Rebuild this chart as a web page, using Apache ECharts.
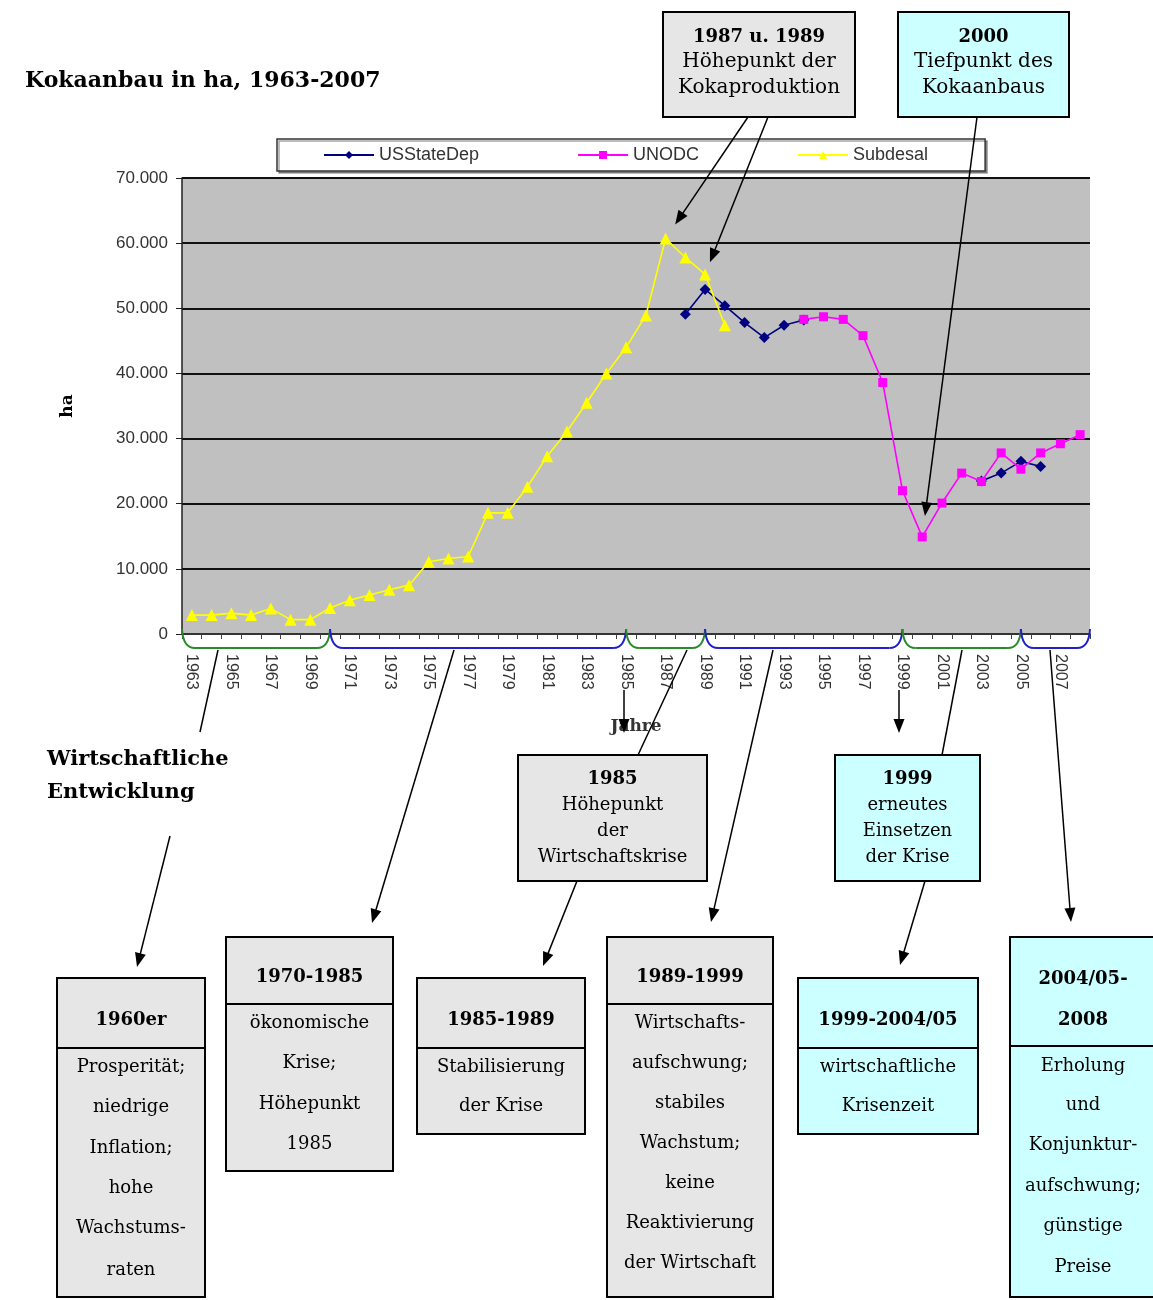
<!DOCTYPE html>
<html>
<head>
<meta charset="utf-8">
<title>Kokaanbau in ha, 1963-2007</title>
<script src="https://cdn.jsdelivr.net/npm/echarts@6/dist/echarts.min.js"></script>
<style>
  html, body { margin: 0; padding: 0; background: #ffffff; }
  #chart { width: 1153px; height: 1300px; }
</style>
</head>
<body>
<div id="chart"></div>
<script>
// Jahre 1963-2008
const years = ['1963','1964','1965','1966','1967','1968','1969','1970','1971','1972',
  '1973','1974','1975','1976','1977','1978','1979','1980','1981','1982',
  '1983','1984','1985','1986','1987','1988','1989','1990','1991','1992',
  '1993','1994','1995','1996','1997','1998','1999','2000','2001','2002',
  '2003','2004','2005','2006','2007','2008'];

// Kokaanbau in ha je Quelle
const usStateDep = [null,null,null,null,null,null,null,null,null,null,
  null,null,null,null,null,null,null,null,null,null,
  null,null,null,null,null,49100,52900,50400,47800,45500,
  47400,48200,null,null,null,null,null,null,null,null,
  23500,24700,26500,25700,null,null];

const unodc = [null,null,null,null,null,null,null,null,null,null,
  null,null,null,null,null,null,null,null,null,null,
  null,null,null,null,null,null,null,null,null,null,
  null,48300,48700,48300,45800,38600,22000,14900,20100,24700,
  23400,27800,25300,27800,29200,30600];

const subdesal = [2900,2900,3200,2900,3900,2200,2200,4000,5200,6000,
  6800,7500,11100,11600,11900,18600,18600,22600,27300,31100,
  35500,40000,44000,48900,60700,57800,55200,47400,null,null,
  null,null,null,null,null,null,null,null,null,null,
  null,null,null,null,null,null];

// Phasen der wirtschaftlichen Entwicklung (Klammern unter der Zeitachse)
const phaseBounds = ['1963','1970','1985','1989','1999','2005','2008'];

// Texte der Hinweiskästen
const boxPeak = ['1987 u. 1989', 'Höhepunkt der', 'Kokaproduktion'];
const boxLow = ['2000', 'Tiefpunkt des', 'Kokaanbaus'];
const box1985 = ['1985', 'Höhepunkt', 'der', 'Wirtschaftskrise'];
const box1999 = ['1999', 'erneutes', 'Einsetzen', 'der Krise'];
const phase1960 = { head: ['1960er'], body: ['Prosperität;', 'niedrige', 'Inflation;', 'hohe', 'Wachstums-', 'raten'] };
const phase1970 = { head: ['1970-1985'], body: ['ökonomische', 'Krise;', 'Höhepunkt', '1985'] };
const phase1985 = { head: ['1985-1989'], body: ['Stabilisierung', 'der Krise'] };
const phase1989 = { head: ['1989-1999'], body: ['Wirtschafts-', 'aufschwung;', 'stabiles', 'Wachstum;', 'keine', 'Reaktivierung', 'der Wirtschaft'] };
const phase1999 = { head: ['1999-2004/05'], body: ['wirtschaftliche', 'Krisenzeit'] };
const phase2004 = { head: ['2004/05-', '2008'], body: ['Erholung', 'und', 'Konjunktur-', 'aufschwung;', 'günstige', 'Preise'] };
const devLabel = ['Wirtschaftliche', 'Entwicklung'];

const SERIF = '"DejaVu Serif", "Liberation Serif", serif';
const SANS = '"Liberation Sans", Arial, sans-serif';
const GRAY_BOX = '#e6e6e6';
const CYAN_BOX = '#ccffff';

function thousands(v) {
  return String(v).replace(/\B(?=(\d{3})+(?!\d))/g, '.');
}

const chart = echarts.init(document.getElementById('chart'), null, { renderer: 'canvas' });

chart.setOption({
  backgroundColor: '#ffffff',
  animation: false,
  title: {
    text: 'Kokaanbau in ha, 1963-2007',
    left: 20, top: 65,
    textStyle: { fontFamily: SERIF, fontWeight: 'bold', fontSize: 22, color: '#000' }
  },
  legend: {
    top: 139, left: 277,
    padding: [7, 57, 7, 46],
    itemGap: 98,
    itemWidth: 50, itemHeight: 10,
    borderColor: '#333', borderWidth: 1.5,
    backgroundColor: '#ffffff',
    shadowColor: 'rgba(0,0,0,0.35)', shadowOffsetX: 2, shadowOffsetY: 2, shadowBlur: 0,
    textStyle: { fontFamily: SANS, fontSize: 18, color: '#333' },
    data: ['USStateDep', 'UNODC', 'Subdesal']
  },
  grid: {
    left: 182, right: 63, top: 178, bottom: 666,
    show: true, backgroundColor: '#c0c0c0', borderWidth: 0
  },
  xAxis: {
    type: 'category',
    data: years,
    boundaryGap: true,
    name: 'Jahre',
    nameLocation: 'middle',
    nameGap: 84,
    nameTextStyle: { fontFamily: SERIF, fontWeight: 'bold', fontSize: 17, color: '#333' },
    axisLine: { lineStyle: { color: '#404040', width: 1.5 } },
    axisTick: { show: true, interval: 0, length: 5, lineStyle: { color: '#404040' } },
    axisLabel: { interval: 1, rotate: -90, margin: 20, fontFamily: SANS, fontSize: 16, color: '#333' },
    splitLine: { show: false }
  },
  yAxis: {
    type: 'value',
    min: 0, max: 70000, interval: 10000,
    name: 'ha',
    nameLocation: 'middle',
    nameGap: 106,
    nameRotate: 90,
    nameTextStyle: { fontFamily: SERIF, fontWeight: 'bold', fontSize: 17, color: '#000' },
    axisLine: { show: true, lineStyle: { color: '#202020', width: 1.5 } },
    axisTick: { show: true, length: 6, lineStyle: { color: '#202020' } },
    axisLabel: { formatter: thousands, fontFamily: SANS, fontSize: 17, color: '#333', margin: 14 },
    splitLine: { show: true, lineStyle: { color: '#111', width: 1.8 } }
  },
  series: [
    {
      name: 'USStateDep', type: 'line', data: usStateDep,
      symbol: 'diamond', symbolSize: 11,
      lineStyle: { color: '#000080', width: 1.6 },
      itemStyle: { color: '#000080' }
    },
    {
      name: 'UNODC', type: 'line', data: unodc,
      symbol: 'rect', symbolSize: 9,
      lineStyle: { color: '#ff00ff', width: 1.6 },
      itemStyle: { color: '#ff00ff' }
    },
    {
      name: 'Subdesal', type: 'line', data: subdesal,
      symbol: 'triangle', symbolSize: 12,
      lineStyle: { color: '#ffff00', width: 1.6 },
      itemStyle: { color: '#ffff00' }
    }
  ]
});

// ---------- Anmerkungen: Klammern, Pfeile, Kästen ----------
const Z = 100;

function px(year, value) {
  return chart.convertToPixel({ gridIndex: 0 }, [year, value]);
}

function arrow(x1, y1, x2, y2, withHead) {
  const dx = x2 - x1, dy = y2 - y1, L = Math.hypot(dx, dy);
  const ux = dx / L, uy = dy / L;
  const hl = 14, hw = 5.5;
  const bx = x2 - ux * hl, by = y2 - uy * hl;
  const els = [{
    type: 'line', z: Z, silent: true,
    shape: { x1: x1, y1: y1, x2: withHead ? bx + ux * 2 : x2, y2: withHead ? by + uy * 2 : y2 },
    style: { stroke: '#000', lineWidth: 1.5 }
  }];
  if (withHead) {
    els.push({
      type: 'polygon', z: Z, silent: true,
      shape: { points: [[x2, y2], [bx - uy * hw, by + ux * hw], [bx + uy * hw, by - ux * hw]] },
      style: { fill: '#000' }
    });
  }
  return els;
}

// arrow from a box edge towards a data point, stopping short of it
function arrowToPoint(x1, y1, year, value, gap) {
  const p = px(year, value);
  const dx = p[0] - x1, dy = p[1] - y1, L = Math.hypot(dx, dy);
  return arrow(x1, y1, p[0] - dx / L * gap, p[1] - dy / L * gap, true);
}

function text(str, x, y, font, align) {
  return {
    type: 'text', z: Z + 1, silent: true, x: x, y: y,
    style: {
      text: str, font: font, fill: '#000',
      textAlign: align || 'center', textVerticalAlign: 'middle',
      align: align || 'center', verticalAlign: 'middle'
    }
  };
}

function rect(x, y, w, h, fill) {
  return {
    type: 'rect', z: Z, silent: true,
    shape: { x: x, y: y, width: w, height: h },
    style: { fill: fill, stroke: '#000', lineWidth: 2 }
  };
}

// simple note box: first line bold, rest regular
function noteBox(lines, x, y, w, h, fill, lineYs, bodySize) {
  const els = [rect(x, y, w, h, fill)];
  const cx = x + w / 2;
  lines.forEach(function (s, i) {
    const font = i === 0 ? 'bold 18px ' + SERIF : bodySize + 'px ' + SERIF;
    els.push(text(s, cx, lineYs[i], font));
  });
  return els;
}

// phase box with header row
function phaseBox(phase, x, y, w, h, divY, headYs, bodyYs, fill) {
  const els = [rect(x, y, w, h, fill)];
  els.push({ type: 'line', z: Z, silent: true,
    shape: { x1: x, y1: divY, x2: x + w, y2: divY }, style: { stroke: '#000', lineWidth: 2 } });
  const cx = x + w / 2;
  phase.head.forEach(function (s, i) { els.push(text(s, cx, headYs[i], 'bold 18px ' + SERIF)); });
  phase.body.forEach(function (s, i) { els.push(text(s, cx, bodyYs[i], '18px ' + SERIF)); });
  return els;
}

function buildGraphics() {
  const g = [];
  const axisY = px(years[0], 0)[1];
  const gridRect = chart.getModel().getComponent('grid', 0).coordinateSystem.getRect();

  // Phase brackets under the time axis
  const braceColors = ['#2a8a2a', '#1f1fcc'];
  const cuspY = axisY - 5, lowY = axisY + 14;
  for (let i = 0; i < phaseBounds.length - 1; i++) {
    const x0 = i === 0 ? gridRect.x : px(phaseBounds[i], 0)[0];
    const x1 = i === phaseBounds.length - 2 ? gridRect.x + gridRect.width : px(phaseBounds[i + 1], 0)[0];
    const c = braceColors[i % 2];
    const st = { stroke: c, lineWidth: 2, fill: null };
    g.push({ type: 'bezierCurve', z: Z, silent: true,
      shape: { x1: x0, y1: cuspY, cpx1: x0 + 1, cpy1: lowY, x2: x0 + 13, y2: lowY }, style: st });
    g.push({ type: 'line', z: Z, silent: true,
      shape: { x1: x0 + 13, y1: lowY, x2: x1 - 13, y2: lowY }, style: st });
    g.push({ type: 'bezierCurve', z: Z, silent: true,
      shape: { x1: x1 - 13, y1: lowY, cpx1: x1 - 1, cpy1: lowY, x2: x1, y2: cuspY }, style: st });
  }

  // Top note boxes and their arrows to the peak / low points
  g.push.apply(g, noteBox(boxPeak, 663, 12, 192, 105, GRAY_BOX, [37, 62, 88], 20));
  g.push.apply(g, noteBox(boxLow, 898, 12, 171, 105, CYAN_BOX, [37, 62, 88], 20));
  g.push.apply(g, arrowToPoint(748, 117, '1987', subdesal[years.indexOf('1987')], 17));
  g.push.apply(g, arrowToPoint(768, 117, '1989', subdesal[years.indexOf('1989')], 13));
  g.push.apply(g, arrowToPoint(977, 117, '2000', unodc[years.indexOf('2000')], 21));

  // Connectors from the brackets down to the phase boxes
  g.push.apply(g, arrow(218, 650, 200, 732, false));
  g.push(text(devLabel[0], 47, 760, 'bold 21px ' + SERIF, 'left'));
  g.push(text(devLabel[1], 47, 793, 'bold 21px ' + SERIF, 'left'));
  g.push.apply(g, arrow(170, 836, 137, 967, true));
  g.push.apply(g, arrow(454, 650, 372, 923, true));
  g.push.apply(g, arrow(687, 650, 638, 755, false));
  g.push.apply(g, arrow(577, 881, 543, 966, true));
  g.push.apply(g, arrow(624, 690, 624, 733, true));
  g.push.apply(g, arrow(773, 650, 711, 922, true));
  g.push.apply(g, arrow(899, 690, 899, 733, true));
  g.push.apply(g, arrow(962, 650, 942, 755, false));
  g.push.apply(g, arrow(925, 881, 900, 965, true));
  g.push.apply(g, arrow(1050, 650, 1071, 922, true));

  // Middle note boxes
  g.push.apply(g, noteBox(box1985, 518, 755, 189, 126, GRAY_BOX, [779, 805, 831, 857], 18));
  g.push.apply(g, noteBox(box1999, 835, 755, 145, 126, CYAN_BOX, [779, 805, 831, 857], 18));

  // Phase boxes
  g.push.apply(g, phaseBox(phase1960, 57, 978, 148, 319, 1048, [1020],
    [1067, 1107, 1148, 1188, 1228, 1270], GRAY_BOX));
  g.push.apply(g, phaseBox(phase1970, 226, 937, 167, 234, 1004, [977],
    [1023, 1063, 1104, 1144], GRAY_BOX));
  g.push.apply(g, phaseBox(phase1985, 417, 978, 168, 156, 1048, [1020],
    [1067, 1106], GRAY_BOX));
  g.push.apply(g, phaseBox(phase1989, 607, 937, 166, 360, 1004, [977],
    [1023, 1063, 1103, 1143, 1183, 1223, 1263], GRAY_BOX));
  g.push.apply(g, phaseBox(phase1999, 798, 978, 180, 156, 1048, [1020],
    [1067, 1106], CYAN_BOX));
  g.push.apply(g, phaseBox(phase2004, 1010, 937, 146, 360, 1046, [979, 1020],
    [1066, 1105, 1145, 1186, 1226, 1267], CYAN_BOX));

  return g;
}

chart.setOption({ graphic: buildGraphics() });
</script>
</body>
</html>
